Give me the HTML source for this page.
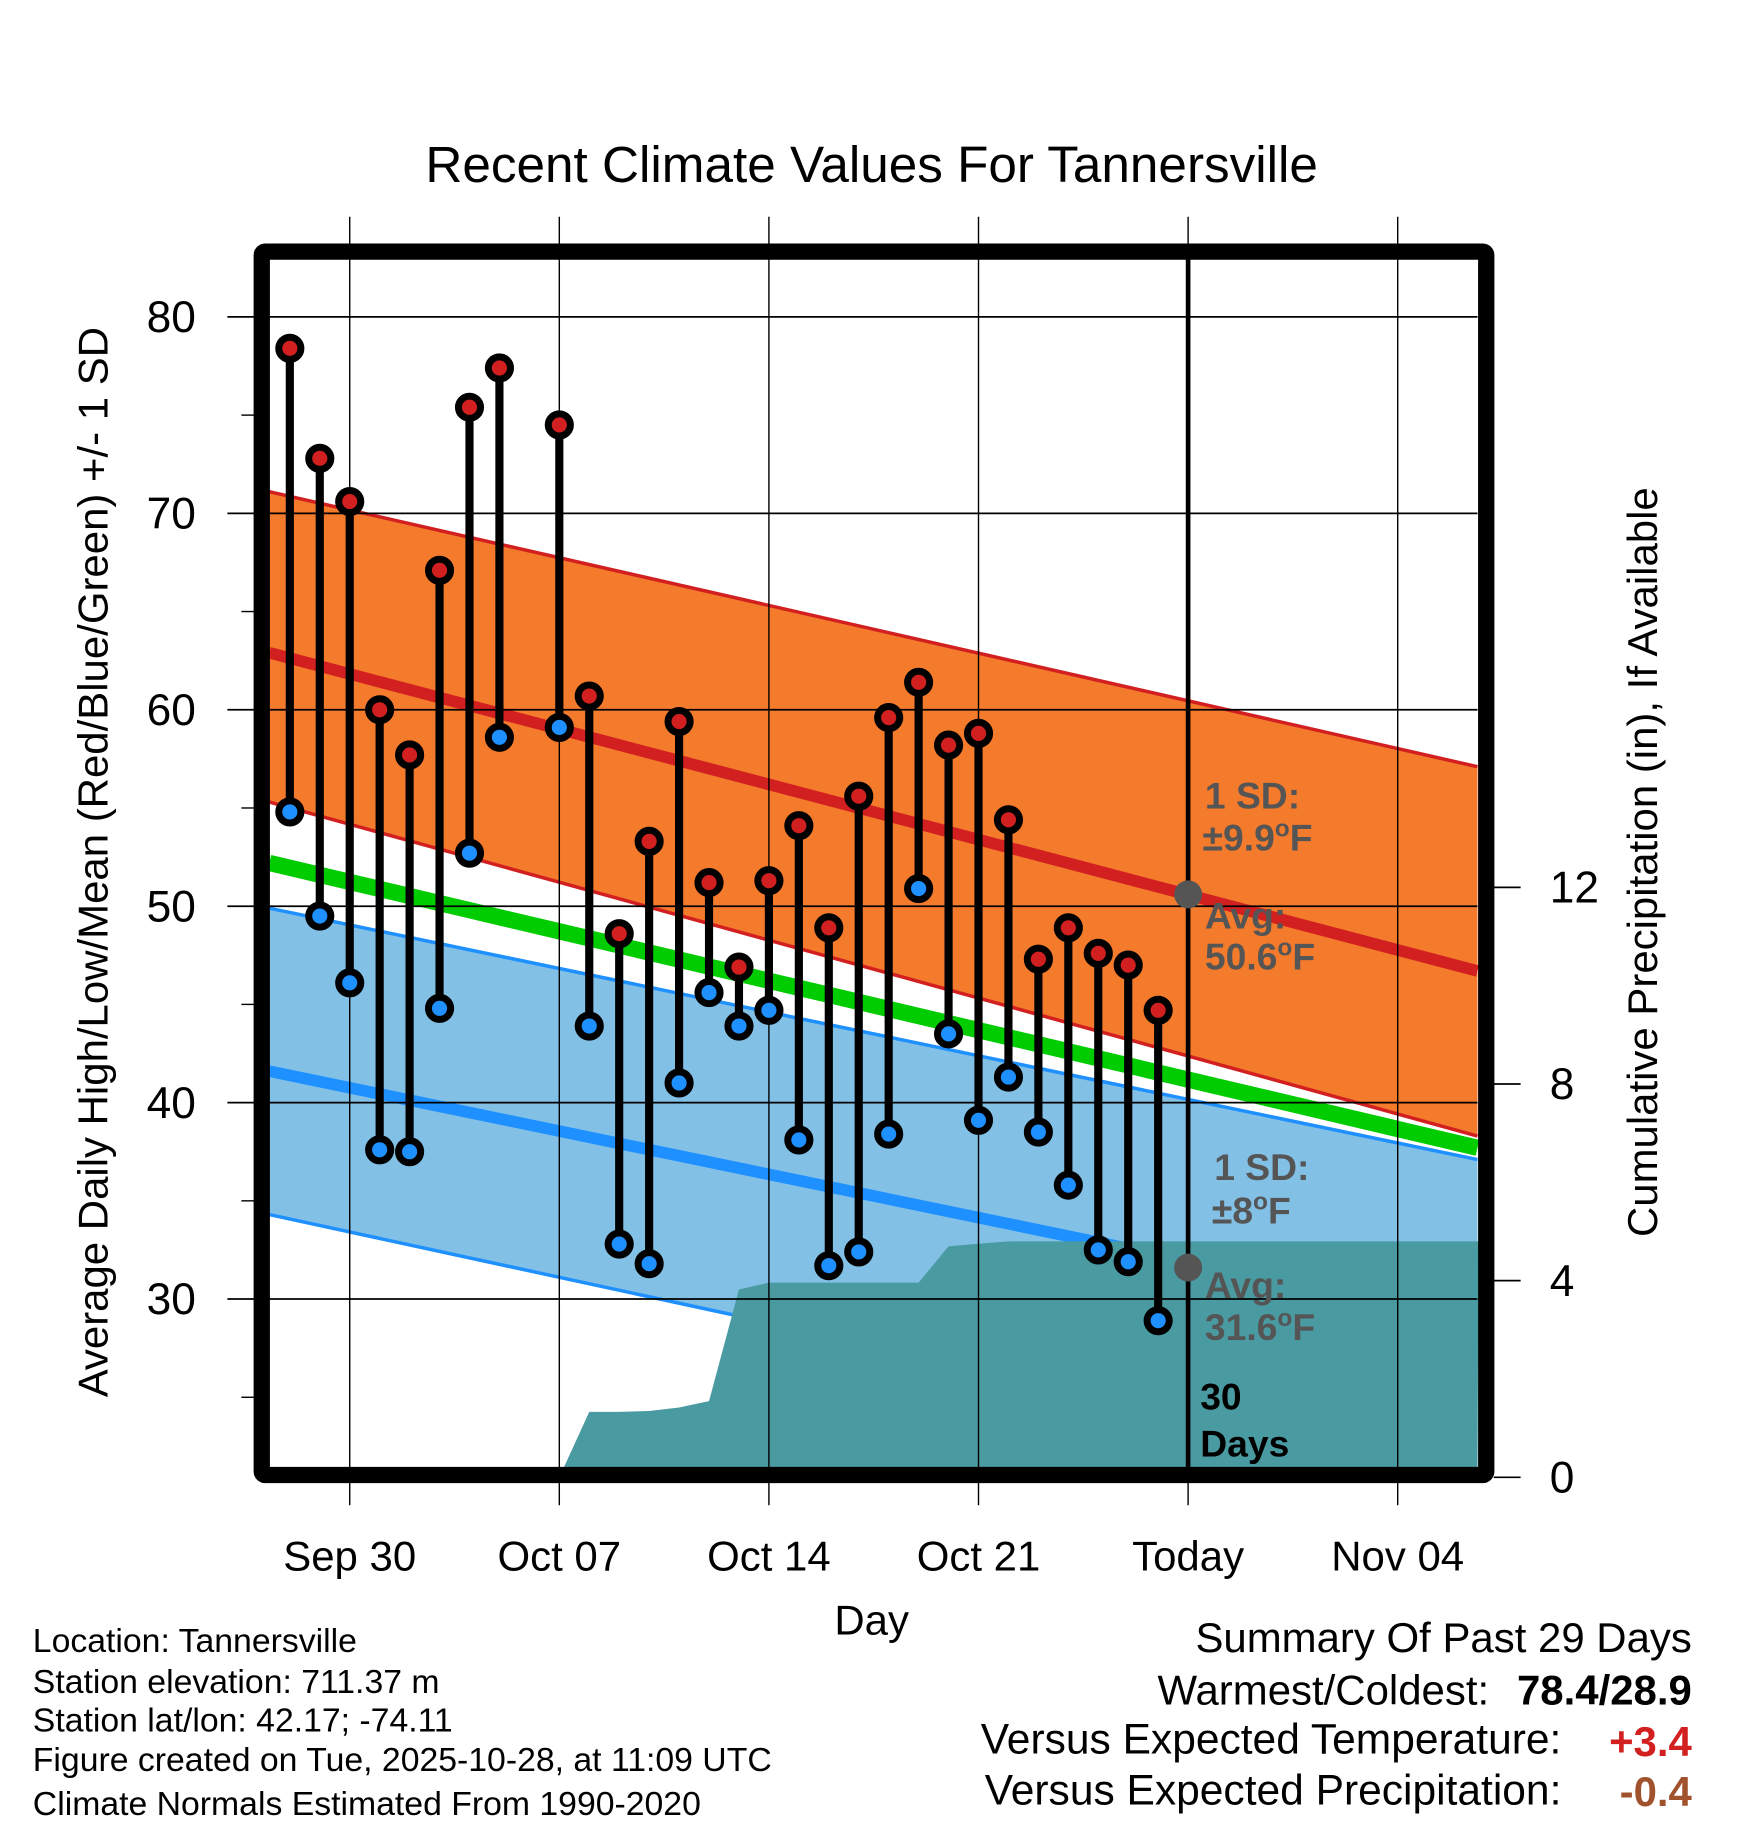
<!DOCTYPE html>
<html><head><meta charset="utf-8"><style>
html,body{margin:0;padding:0;background:#fff}
svg{display:block;font-family:"Liberation Sans",Arial,sans-serif}
</style></head><body>
<svg id="chart" width="1748" height="1828" viewBox="0 0 1500 1569" xmlns="http://www.w3.org/2000/svg"></svg>
<script>
const dayIdx=[-2,-1,0,1,2,3,4,5,7,8,9,10,11,12,13,14,15,16,17,18,19,20,21,22,23,24,25,26,27];
const highs=[78.4,72.8,70.6,60.0,57.7,67.1,75.4,77.4,74.5,60.7,48.6,53.3,59.4,51.2,46.9,51.3,54.1,48.9,55.6,59.6,61.4,58.2,58.8,54.4,47.3,48.9,47.6,47.0,44.7];
const lows=[54.8,49.5,46.1,37.6,37.5,44.8,52.7,58.6,59.1,43.9,32.8,31.8,41.0,45.6,43.9,44.7,38.1,31.7,32.4,38.4,50.9,43.5,39.1,41.3,38.5,35.8,32.5,31.9,28.9];
const precipDays=[7,8,9,10,11,12,13,14,19,20,21,22,27,37.7];
const precipVals=[0,1.33,1.33,1.35,1.42,1.55,3.82,3.96,3.96,4.7,4.75,4.8,4.8,4.8];
const normEnds=[-2.68,37.7];
const hiUpper=[71.1,57.1],hiMean=[62.9,46.7],hiLower=[55.3,38.3];
const meanLine=[52.2,37.7];
const loUpper=[49.9,37.1],loMean=[41.6,28.9],loLower=[34.3,21.0];
const xTickDays=[0,7,14,21,28,35];
const xTickLabels=["Sep 30","Oct 07","Oct 14","Oct 21","Today","Nov 04"];
const yTicks=[30,40,50,60,70,80];
const pTicks=[0,4,8,12];

const NS="http://www.w3.org/2000/svg";
const svg=document.getElementById('chart');
const L=231,R=1268,T=222,B=1260;
const x=d=>300+25.7*d;
const y=v=>272+(80-v)*16.86;
const yp=p=>1268-p*42.2;
function mk(tag,attrs,parent){const e=document.createElementNS(NS,tag);for(const k in attrs)e.setAttribute(k,attrs[k]);(parent||svg).appendChild(e);return e;}
function txt(s,attrs,parent){const e=mk('text',attrs,parent);e.textContent=s;return e;}

let t=txt("Recent Climate Values For Tannersville",{x:748,y:156,'font-size':44,'text-anchor':'middle'});



function band(up,lo,fill,name){const p=mk('polygon',{points:`${L},${y(up[0])} ${R},${y(up[1])} ${R},${y(lo[1])} ${L},${y(lo[0])}`,fill:fill});

}
function line(v,stroke,w,name){const l=mk('line',{x1:L,y1:y(v[0]),x2:R,y2:y(v[1]),stroke:stroke,'stroke-width':w});

}
band(hiUpper,hiLower,'#f47a2c','high-sd-band');
band(loUpper,loLower,'#82c0e6','low-sd-band');
line(hiUpper,'#d22020',3,'high-upper-sd-line');
line(hiLower,'#d22020',3,'high-lower-sd-line');
line(loUpper,'#1e90ff',3,'low-upper-sd-line');
line(loLower,'#1e90ff',3,'low-lower-sd-line');
line(hiMean,'#d22020',10,'mean-high-line');
line(loMean,'#1e90ff',10,'mean-low-line');
line(meanLine,'#00cc00',14,'mean-temp-line');

let pts=precipDays.map((d,i)=>`${x(d)},${yp(precipVals[i])}`);
pts.push(`${R},${yp(0)}`,`${x(precipDays[0])},${yp(0)}`);
let pa=mk('polygon',{points:pts.join(' '),fill:'#4a9aa2'});



yTicks.forEach(v=>{const g=mk('line',{x1:195,x2:R,y1:y(v),y2:y(v),stroke:'#000','stroke-width':1.5});


const lb=txt(String(v),{x:168,y:y(v)+13,'font-size':38,'text-anchor':'end'});

});
for(let v=25;v<=75;v+=10){const m=mk('line',{x1:207,x2:218,y1:y(v),y2:y(v),stroke:'#000','stroke-width':1.2});

}
xTickDays.forEach((d,i)=>{const g=mk('line',{x1:x(d),x2:x(d),y1:186,y2:1292,stroke:'#000','stroke-width':1.2});


const lb=txt(xTickLabels[i],{x:x(d),y:1348,'font-size':36,'text-anchor':'middle'});

});
pTicks.forEach(p=>{const m=mk('line',{x1:1282,x2:1305,y1:yp(p),y2:yp(p),stroke:'#000','stroke-width':1.5});


const lb=txt(String(p),{x:1330,y:yp(p)+13,'font-size':38});

});

let tl=mk('line',{x1:x(28),x2:x(28),y1:T,y2:B,stroke:'#000','stroke-width':4});



dayIdx.forEach((d,i)=>{
 const s=mk('line',{x1:x(d),x2:x(d),y1:y(highs[i]),y2:y(lows[i]),stroke:'#000','stroke-width':7});
 
 
 const h=mk('circle',{cx:x(d),cy:y(highs[i]),r:9.5,fill:'#d22020',stroke:'#000','stroke-width':6});
 
 
 const l=mk('circle',{cx:x(d),cy:y(lows[i]),r:9.5,fill:'#1e90ff',stroke:'#000','stroke-width':6});
 
 
});

let ad1=mk('circle',{cx:x(28),cy:y(50.6),r:12,fill:'#555'});


let ad2=mk('circle',{cx:x(28),cy:y(31.6),r:12,fill:'#555'});



let fr=mk('rect',{x:224.5,y:216,width:1051,height:1050,fill:'none',stroke:'#000','stroke-width':14,rx:3});


</script>
<script>
(function(){
const NS="http://www.w3.org/2000/svg";const svg=document.getElementById('chart');
function T(s,a,name){const e=document.createElementNS(NS,'text');for(const k in a)e.setAttribute(k,a[k]);e.innerHTML=s;svg.appendChild(e);

return e;}
const g={fill:'#555','font-size':32,'font-weight':'bold'};
T('1 SD:',Object.assign({x:1034,y:694},g),'high-sd-label');
T('±9.9<tspan dy="-12" font-size="21">o</tspan><tspan dy="12">F</tspan>',Object.assign({x:1032,y:730},g),'high-sd-value');
T('Avg:',Object.assign({x:1034,y:797},g),'avg-high-label');
T('50.6<tspan dy="-12" font-size="21">o</tspan><tspan dy="12">F</tspan>',Object.assign({x:1034,y:832},g),'avg-high-value');
T('1 SD:',Object.assign({x:1042,y:1013},g),'low-sd-label');
T('±8<tspan dy="-12" font-size="21">o</tspan><tspan dy="12">F</tspan>',Object.assign({x:1040,y:1050},g),'low-sd-value');
T('Avg:',Object.assign({x:1034,y:1114},g),'avg-low-label');
T('31.6<tspan dy="-12" font-size="21">o</tspan><tspan dy="12">F</tspan>',Object.assign({x:1034,y:1150},g),'avg-low-value');
T('30',{x:1030,y:1210,'font-size':32,'font-weight':'bold'},'days-count');
T('Days',{x:1030,y:1250,'font-size':32,'font-weight':'bold'},'days-label');
T('Average Daily High/Low/Mean (Red/Blue/Green) +/- 1 SD',{x:0,y:0,'font-size':36,'text-anchor':'middle',transform:'translate(92,740) rotate(-90)'},'y-axis-title');
T('Cumulative Precipitation (in), If Available',{x:0,y:0,'font-size':36,'text-anchor':'middle',transform:'translate(1422,740) rotate(-90)'},'precip-axis-title');
T('Day',{x:748,y:1403,'font-size':36,'text-anchor':'middle'},'x-axis-title');
const info=['Location: Tannersville','Station elevation: 711.37 m','Station lat/lon: 42.17; -74.11','Figure created on Tue, 2025-10-28, at 11:09 UTC','Climate Normals Estimated From 1990-2020'];
const iy=[1418,1453,1486,1520,1558];
info.forEach((s,i)=>T(s,{x:28,y:iy[i],'font-size':29},'station-info-line'));
T('Summary Of Past 29 Days',{x:1452,y:1418,'font-size':36,'text-anchor':'end'},'summary-title');
T('Warmest/Coldest:',{x:1278,y:1463,'font-size':36,'text-anchor':'end'},'warmest-coldest-label');
T('78.4/28.9',{x:1452,y:1463,'font-size':36,'font-weight':'bold','text-anchor':'end'},'warmest-coldest-value');
T('Versus Expected Temperature:',{x:1340,y:1505,'font-size':36.5,'text-anchor':'end'},'temp-anomaly-label');
T('+3.4',{x:1452,y:1507,'font-size':36,'font-weight':'bold','fill':'#d22020','text-anchor':'end'},'temp-anomaly-value');
T('Versus Expected Precipitation:',{x:1340,y:1549,'font-size':36.5,'text-anchor':'end'},'precip-anomaly-label');
T('-0.4',{x:1452,y:1550,'font-size':36,'font-weight':'bold','fill':'#a0522d','text-anchor':'end'},'precip-anomaly-value');
})();
</script>
</body></html>
